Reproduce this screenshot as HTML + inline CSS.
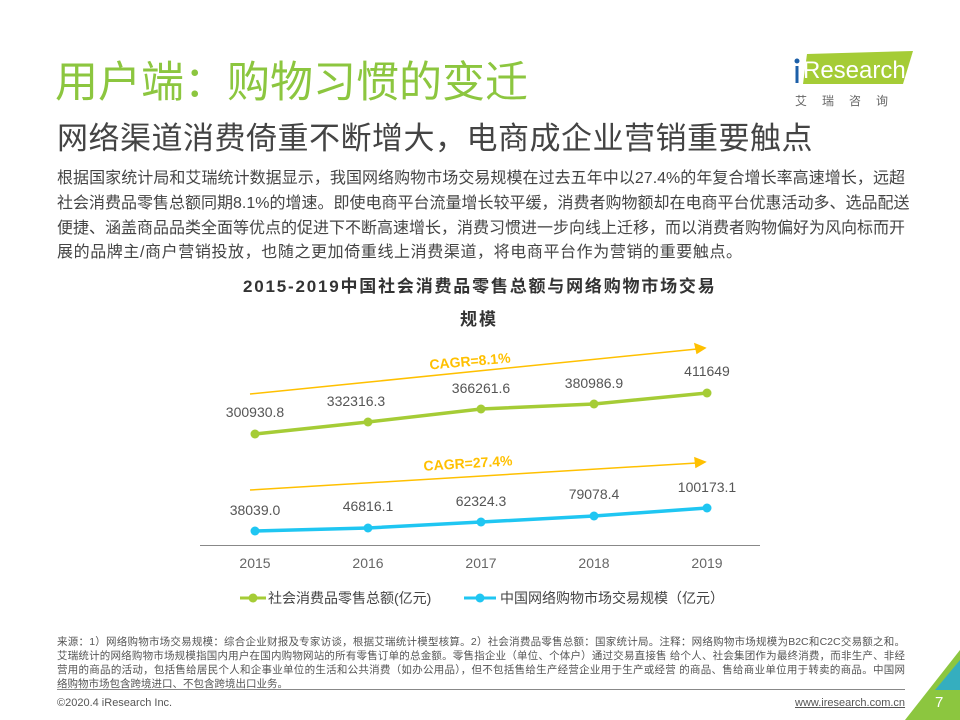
<!DOCTYPE html>
<html><head><meta charset="utf-8"><style>
body{margin:0;width:960px;height:720px;position:relative;overflow:hidden;background:#fff;font-family:"Liberation Sans","Noto Sans CJK SC",sans-serif;}
.a{position:absolute;white-space:nowrap;}
.j{position:absolute;left:57px;width:848px;text-align:justify;text-align-last:justify;font-size:16px;color:#444;white-space:nowrap;}
.n{position:absolute;left:57px;width:848px;text-align:justify;text-align-last:justify;font-size:10.5px;color:#555;white-space:nowrap;transform-origin:left;}
</style></head><body>
<div class="a" style="left:55px;top:48px;font-size:43px;color:#8cc63f;">用户端：购物习惯的变迁</div>
<div class="a" style="left:57px;top:113px;font-size:31px;color:#444;letter-spacing:0.5px">网络渠道消费倚重不断增大，电商成企业营销重要触点</div>
<div class="j" style="top:164px">根据国家统计局和艾瑞统计数据显示，我国网络购物市场交易规模在过去五年中以27.4%的年复合增长率高速增长，远超</div>
<div class="j" style="top:189px">社会消费品零售总额同期8.1%的增速。即使电商平台流量增长较平缓，消费者购物额却在电商平台优惠活动多、选品配送</div>
<div class="j" style="top:214px">便捷、涵盖商品品类全面等优点的促进下不断高速增长，消费习惯进一步向线上迁移，而以消费者购物偏好为风向标而开</div>
<div class="a" style="left:57px;top:238px;font-size:16px;color:#444;letter-spacing:0.6px">展的品牌主/商户营销投放，也随之更加倚重线上消费渠道，将电商平台作为营销的重要触点。</div>
<div class="a" style="left:243px;top:272px;font-size:17px;font-weight:bold;color:#333;letter-spacing:1.8px">2015-2019中国社会消费品零售总额与网络购物市场交易</div>
<div class="a" style="left:460px;top:305px;font-size:17px;font-weight:bold;color:#333;letter-spacing:2px">规模</div>
<svg class="a" style="left:0;top:0" width="960" height="720">
<g stroke="#ffc000" stroke-width="1.5" fill="#ffc000">
<line x1="250" y1="394" x2="697" y2="349"/><polygon points="705,348 695,344 697,353"/>
<line x1="250" y1="490" x2="697" y2="463"/><polygon points="705,462 695,458 696,467"/>
</g>
<text x="470" y="366" font-size="14" font-weight="bold" fill="#ffc000" text-anchor="middle" transform="rotate(-5 470 362)" font-family="Liberation Sans">CAGR=8.1%</text>
<text x="468" y="468" font-size="14" font-weight="bold" fill="#ffc000" text-anchor="middle" transform="rotate(-3.5 468 464)" font-family="Liberation Sans">CAGR=27.4%</text>
<polyline points="255,434 368,422 481,409 594,404 707,393" fill="none" stroke="#a5cc36" stroke-width="3.5"/>
<g fill="#a5cc36"><circle cx="255" cy="434" r="4.5"/><circle cx="368" cy="422" r="4.5"/><circle cx="481" cy="409" r="4.5"/><circle cx="594" cy="404" r="4.5"/><circle cx="707" cy="393" r="4.5"/></g>
<polyline points="255,531 368,528 481,522 594,516 707,508" fill="none" stroke="#1fc6f2" stroke-width="3.5"/>
<g fill="#1fc6f2"><circle cx="255" cy="531" r="4.5"/><circle cx="368" cy="528" r="4.5"/><circle cx="481" cy="522" r="4.5"/><circle cx="594" cy="516" r="4.5"/><circle cx="707" cy="508" r="4.5"/></g>
<g font-size="14" fill="#555" text-anchor="middle" font-family="Liberation Sans">
<text x="255" y="417">300930.8</text><text x="356" y="406">332316.3</text><text x="481" y="393">366261.6</text><text x="594" y="388">380986.9</text><text x="707" y="376">411649</text>
<text x="255" y="515">38039.0</text><text x="368" y="511">46816.1</text><text x="481" y="506">62324.3</text><text x="594" y="499">79078.4</text><text x="707" y="492">100173.1</text>
</g>
<line x1="200" y1="545.5" x2="760" y2="545.5" stroke="#888" stroke-width="1"/>
<g font-size="14" fill="#666" text-anchor="middle" font-family="Liberation Sans">
<text x="255" y="568">2015</text><text x="368" y="568">2016</text><text x="481" y="568">2017</text><text x="594" y="568">2018</text><text x="707" y="568">2019</text>
</g>
<line x1="240" y1="598" x2="266" y2="598" stroke="#a5cc36" stroke-width="3"/><circle cx="253" cy="598" r="4.5" fill="#a5cc36"/>
<line x1="464" y1="598" x2="496" y2="598" stroke="#1fc6f2" stroke-width="3"/><circle cx="480" cy="598" r="4.5" fill="#1fc6f2"/>
<line x1="57" y1="689.5" x2="905" y2="689.5" stroke="#888" stroke-width="1"/>
<polygon points="960,650 960,720 905,720" fill="#8cc63f"/>
<polygon points="960,660 960,690 935,690" fill="#1fa8e0" opacity="0.8"/>
<polygon points="807,54 913,51 903,84 803,84" fill="#a5cc36"/>
<circle cx="797" cy="61" r="2.5" fill="#1c5fa8"/>
<rect x="795.5" y="66" width="3" height="17" fill="#1c5fa8"/>
</svg>
<div class="a" style="left:268px;top:588px;font-size:14px;color:#444;">社会消费品零售总额(亿元)</div>
<div class="a" style="left:500px;top:588px;font-size:14px;color:#444;">中国网络购物市场交易规模（亿元）</div>
<div class="a" style="left:803px;top:57px;font-size:24px;color:#fff;">Research</div>
<div class="a" style="left:795px;top:92px;font-size:12px;color:#666;letter-spacing:15px;">艾瑞咨询</div>
<div class="n" style="top:634px">来源：1）网络购物市场交易规模：综合企业财报及专家访谈，根据艾瑞统计模型核算。2）社会消费品零售总额：国家统计局。注释：网络购物市场规模为B2C和C2C交易额之和。</div>
<div class="n" style="top:648px">艾瑞统计的网络购物市场规模指国内用户在国内购物网站的所有零售订单的总金额。零售指企业（单位、个体户）通过交易直接售 给个人、社会集团作为最终消费，而非生产、非经</div>
<div class="n" style="top:662px">营用的商品的活动，包括售给居民个人和企事业单位的生活和公共消费（如办公用品），但不包括售给生产经营企业用于生产或经营 的商品、售给商业单位用于转卖的商品。中国网</div>
<div class="a" style="left:57px;top:676px;font-size:10.5px;color:#555;">络购物市场包含跨境进口、不包含跨境出口业务。</div>
<div class="a" style="left:57px;top:697px;font-size:11px;color:#555;">©2020.4 iResearch Inc.</div>
<div class="a" style="left:795px;top:697px;font-size:11px;color:#555;text-decoration:underline;">www.iresearch.com.cn</div>
<div class="a" style="left:935px;top:694px;font-size:15px;color:#fff;">7</div>
</body></html>
